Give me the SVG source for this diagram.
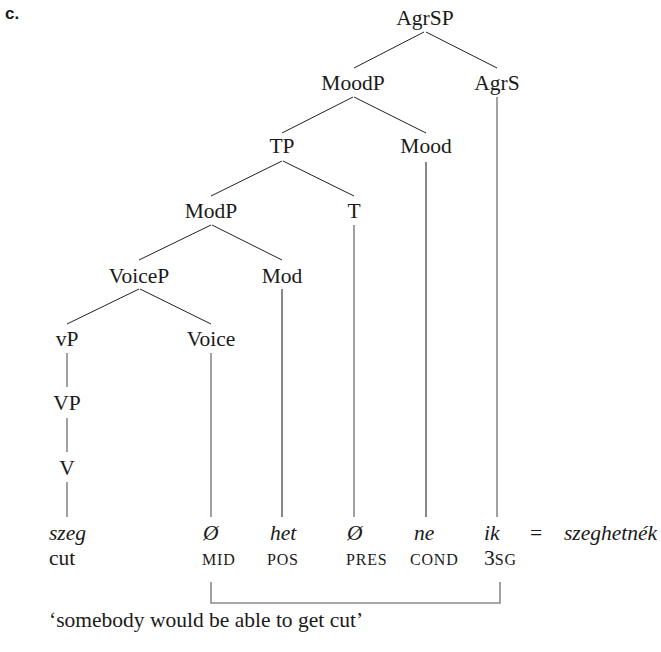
<svg xmlns="http://www.w3.org/2000/svg" width="661" height="652" viewBox="0 0 661 652">
<style>
.lbl{font-family:"Liberation Serif","Times New Roman",serif;font-size:21.5px;fill:#1a1a1a;text-anchor:middle}
.it{font-family:"Liberation Serif","Times New Roman",serif;font-size:21.5px;font-style:italic;fill:#1a1a1a}
.rm{font-family:"Liberation Serif","Times New Roman",serif;font-size:21.5px;fill:#1a1a1a}
.sc{font-family:"Liberation Serif","Times New Roman",serif;font-size:16px;fill:#1a1a1a;letter-spacing:0.8px}
.br{stroke:#222;stroke-width:1;fill:none}
.gr{stroke:#8a8a8a;stroke-width:1.6;fill:none}
.bk{stroke:#111;stroke-width:1;fill:none}
</style>
<rect width="661" height="652" fill="#fff"/>
<text x="5" y="19" font-family="Liberation Sans, Arial, sans-serif" font-size="17" font-weight="bold" fill="#1a1a1a">c.</text>
<g id="connectors">
<line class="br" x1="424" y1="32" x2="354" y2="68"/>
<line class="br" x1="426" y1="32" x2="497" y2="68"/>
<line class="br" x1="353" y1="97" x2="282" y2="133"/>
<line class="br" x1="354" y1="97" x2="426" y2="133"/>
<line class="br" x1="282" y1="161" x2="211" y2="196"/>
<line class="br" x1="283" y1="161" x2="354" y2="196"/>
<line class="br" x1="211" y1="225" x2="139" y2="260"/>
<line class="br" x1="212" y1="225" x2="282" y2="260"/>
<line class="br" x1="139" y1="289" x2="67" y2="324"/>
<line class="br" x1="140" y1="289" x2="211" y2="324"/>
<line class="gr" x1="497" y1="97" x2="497" y2="517"/>
<line class="bk" x1="426" y1="162" x2="426" y2="517"/>
<line class="gr" x1="354" y1="225" x2="354" y2="517"/>
<line class="bk" x1="282" y1="289" x2="282" y2="517"/>
<line class="gr" x1="211" y1="353" x2="211" y2="517"/>
<line class="gr" x1="67" y1="353" x2="67" y2="387"/>
<line class="gr" x1="67" y1="418" x2="67" y2="452"/>
<line class="gr" x1="67" y1="482" x2="67" y2="517"/>
<polyline class="gr" points="211,582 211,603 500,603 500,582"/>
</g>
<g id="n-AgrSP"><text class="lbl" x="425" y="25">AgrSP</text></g>
<g id="n-MoodP"><text class="lbl" x="353" y="90">MoodP</text></g>
<g id="n-AgrS"><text class="lbl" x="497" y="90">AgrS</text></g>
<g id="n-TP"><text class="lbl" x="282" y="153">TP</text></g>
<g id="n-Mood"><text class="lbl" x="426" y="153">Mood</text></g>
<g id="n-ModP"><text class="lbl" x="211" y="218">ModP</text></g>
<g id="n-T"><text class="lbl" x="354" y="218">T</text></g>
<g id="n-VoiceP"><text class="lbl" x="139" y="283">VoiceP</text></g>
<g id="n-Mod"><text class="lbl" x="282" y="283">Mod</text></g>
<g id="n-vP"><text class="lbl" x="67" y="346">vP</text></g>
<g id="n-Voice"><text class="lbl" x="211" y="346">Voice</text></g>
<g id="n-VP"><text class="lbl" x="67" y="410">VP</text></g>
<g id="n-V"><text class="lbl" x="67" y="475">V</text></g>
<g id="gloss">
<text class="it" x="49" y="540">szeg</text>
<text class="rm" x="49" y="565">cut</text>
<text class="it" x="203" y="540">Ø</text>
<text class="sc" x="202" y="565">MID</text>
<text class="it" x="270" y="540">het</text>
<text class="sc" x="267" y="565">POS</text>
<text class="it" x="347" y="540">Ø</text>
<text class="sc" x="346" y="565">PRES</text>
<text class="it" x="414" y="540">ne</text>
<text class="sc" x="410" y="565">COND</text>
<text class="it" x="484" y="540">ik</text>
<text class="rm" x="484" y="565">3<tspan class="sc">SG</tspan></text>
<text class="rm" x="530" y="540">=</text>
<text class="it" x="564" y="540">szeghetnék</text>
</g>
<g id="translation"><text class="rm" x="49" y="627">‘somebody would be able to get cut’</text></g>
</svg>
